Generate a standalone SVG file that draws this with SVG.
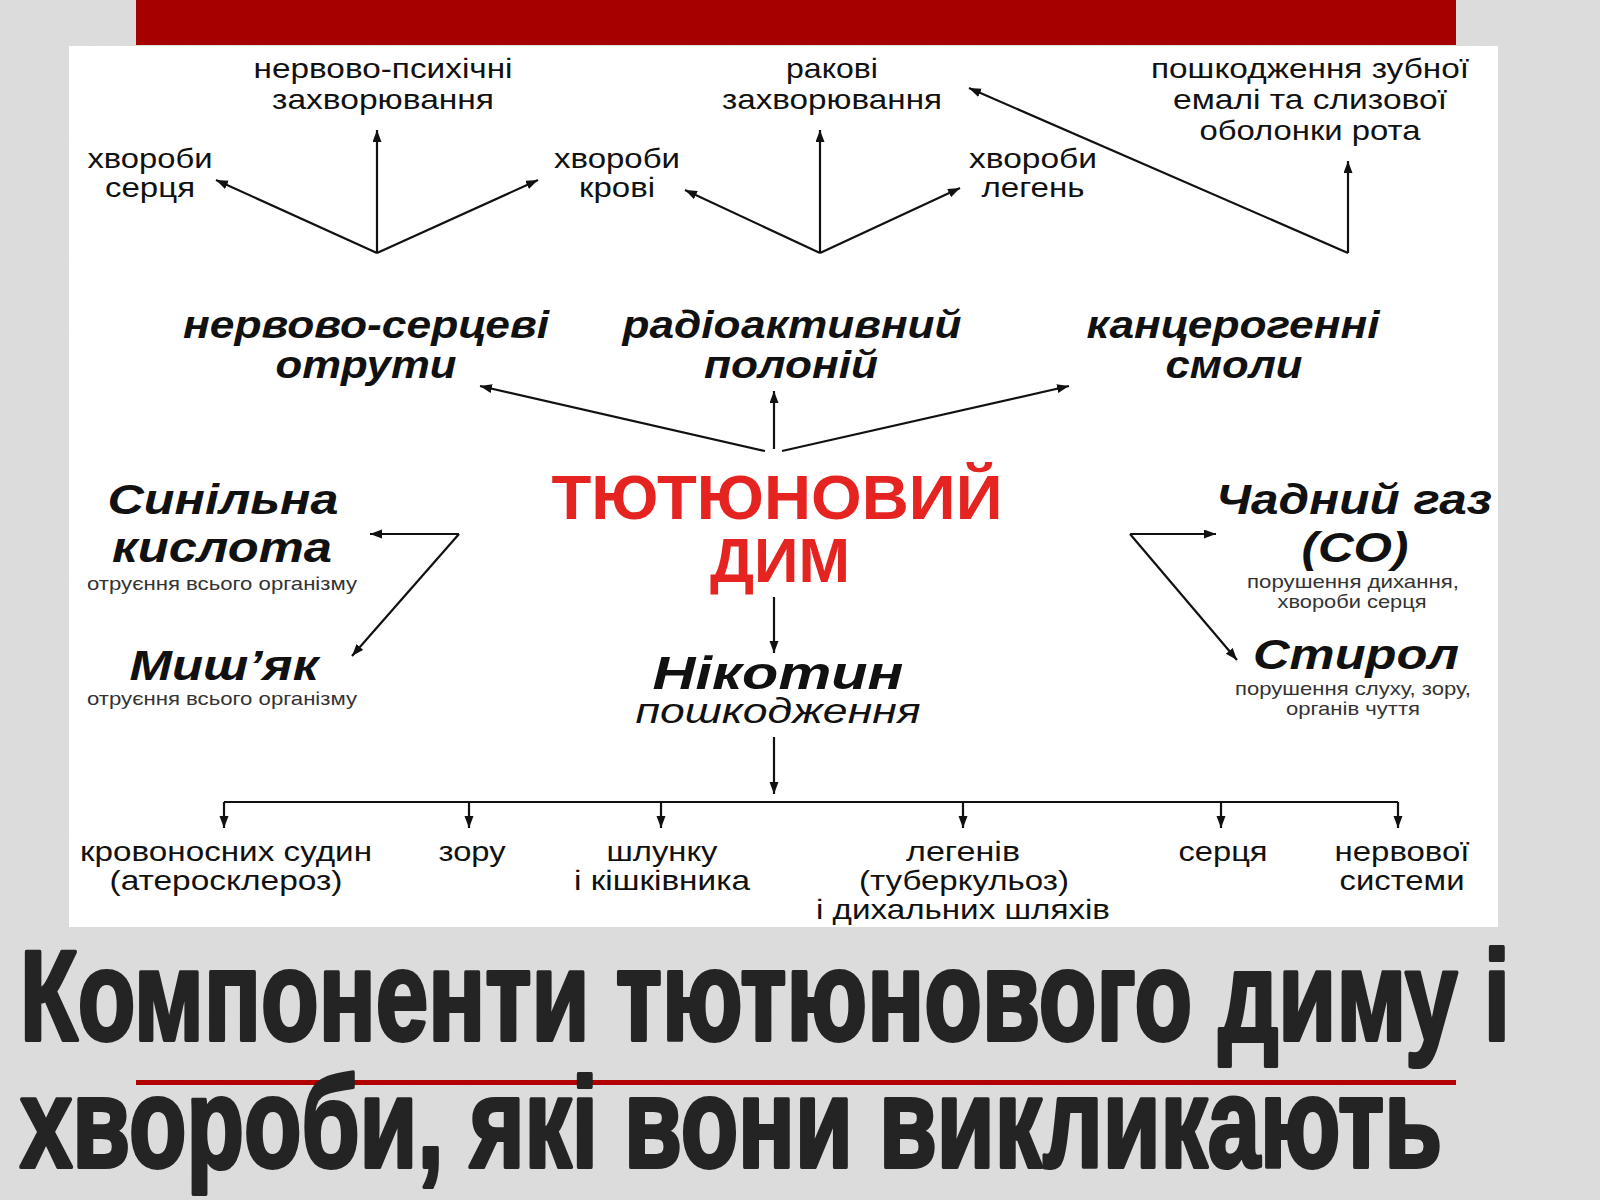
<svg xmlns="http://www.w3.org/2000/svg" width="1600" height="1200" viewBox="0 0 1600 1200">
<defs>
<marker id="ah" markerUnits="userSpaceOnUse" markerWidth="13" markerHeight="10" refX="12" refY="4.5" orient="auto">
<path d="M0,0 L12,4.5 L0,9 z" fill="#111"/>
</marker>
<filter id="noise" x="0" y="0" width="100%" height="100%">
<feTurbulence type="fractalNoise" baseFrequency="0.9" numOctaves="2" seed="3" result="n"/>
<feColorMatrix type="matrix" values="0 0 0 0 0.55  0 0 0 0 0.55  0 0 0 0 0.55  0 0 0 0.16 0"/>
</filter>
<style>
.t{font-family:'Liberation Sans',Arial,sans-serif;font-size:28px;fill:#111;text-anchor:middle}
.bi{font-family:'Liberation Sans',Arial,sans-serif;font-weight:bold;font-style:italic;font-size:39px;fill:#111;text-anchor:middle}
.big{font-size:42px}
.s{font-family:'Liberation Sans',Arial,sans-serif;font-size:19px;fill:#333;text-anchor:middle}
.red{font-family:'Liberation Sans',Arial,sans-serif;font-weight:bold;font-size:63px;fill:#e52421;text-anchor:middle}
.ttl{font-family:'Liberation Sans',Arial,sans-serif;font-weight:bold;font-size:128px;fill:#242424;stroke:#242424;stroke-width:4;stroke-linejoin:round}
.c{stroke:#111;stroke-width:2.2;fill:none;marker-end:url(#ah)}
.p{stroke:#111;stroke-width:2.2;fill:none}
</style>
</defs>
<rect width="1600" height="1200" fill="#dedede"/>
<rect width="1600" height="1200" filter="url(#noise)"/>
<rect x="69" y="46" width="1429" height="881" fill="#ffffff"/>
<rect x="136" y="0" width="1320" height="45" fill="#a70000"/>
<rect x="136" y="1080" width="1320" height="5" fill="#b00000"/>

<g id="connectors">
<path class="c" d="M377,253 L216,180"/>
<path class="c" d="M377,253 L377,130"/>
<path class="c" d="M377,253 L538,180"/>
<path class="c" d="M820,253 L685,190"/>
<path class="c" d="M820,253 L820,130"/>
<path class="c" d="M820,253 L960,188"/>
<path class="c" d="M1348,253 L969,88"/>
<path class="c" d="M1348,253 L1348,161"/>
<path class="c" d="M765,451 L480,386"/>
<path class="c" d="M774,449 L774,391"/>
<path class="c" d="M782,451 L1069,386"/>
<path class="c" d="M459,534 L370,534"/>
<path class="c" d="M459,534 L352,656"/>
<path class="c" d="M1130,534 L1216,534"/>
<path class="c" d="M1130,534 L1237,660"/>
<path class="c" d="M774,597 L774,653"/>
<path class="c" d="M774,737 L774,794"/>
<path class="p" d="M224,802 L1398,802"/>
<path class="c" d="M224,802 L224,828"/>
<path class="c" d="M469,802 L469,828"/>
<path class="c" d="M661,802 L661,828"/>
<path class="c" d="M963,802 L963,828"/>
<path class="c" d="M1221,802 L1221,828"/>
<path class="c" d="M1398,802 L1398,828"/>
</g>

<g id="n-nervovo-psykhichni"><text class="t" x="383" y="78" textLength="259" lengthAdjust="spacingAndGlyphs">нервово-психічні</text><text class="t" x="383" y="109" textLength="222" lengthAdjust="spacingAndGlyphs">захворювання</text></g>
<g id="n-rakovi"><text class="t" x="832" y="78" textLength="92" lengthAdjust="spacingAndGlyphs">ракові</text><text class="t" x="832" y="109" textLength="220" lengthAdjust="spacingAndGlyphs">захворювання</text></g>
<g id="n-zubna"><text class="t" x="1310" y="78" textLength="318" lengthAdjust="spacingAndGlyphs">пошкодження зубної</text><text class="t" x="1310" y="109" textLength="274" lengthAdjust="spacingAndGlyphs">емалі та слизової</text><text class="t" x="1310" y="140" textLength="221" lengthAdjust="spacingAndGlyphs">оболонки рота</text></g>
<g id="n-sertsia"><text class="t" x="150" y="168" textLength="125" lengthAdjust="spacingAndGlyphs">хвороби</text><text class="t" x="150" y="197" textLength="90" lengthAdjust="spacingAndGlyphs">серця</text></g>
<g id="n-krovi"><text class="t" x="617" y="168" textLength="126" lengthAdjust="spacingAndGlyphs">хвороби</text><text class="t" x="617" y="197" textLength="76" lengthAdjust="spacingAndGlyphs">крові</text></g>
<g id="n-legen"><text class="t" x="1033" y="168" textLength="128" lengthAdjust="spacingAndGlyphs">хвороби</text><text class="t" x="1033" y="197" textLength="103" lengthAdjust="spacingAndGlyphs">легень</text></g>

<g id="n-otruty"><text class="bi" x="366" y="338" textLength="366" lengthAdjust="spacingAndGlyphs">нервово-серцеві</text><text class="bi" x="366" y="378" textLength="181" lengthAdjust="spacingAndGlyphs">отрути</text></g>
<g id="n-polonii"><text class="bi" x="792" y="338" textLength="339" lengthAdjust="spacingAndGlyphs">радіоактивний</text><text class="bi" x="791" y="378" textLength="174" lengthAdjust="spacingAndGlyphs">полоній</text></g>
<g id="n-smoly"><text class="bi" x="1233" y="338" textLength="293" lengthAdjust="spacingAndGlyphs">канцерогенні</text><text class="bi" x="1234" y="378" textLength="137" lengthAdjust="spacingAndGlyphs">смоли</text></g>

<g id="n-dym"><text class="red" x="777" y="519" textLength="451" lengthAdjust="spacingAndGlyphs">ТЮТЮНОВИЙ</text><text class="red" x="780" y="582" textLength="140" lengthAdjust="spacingAndGlyphs">ДИМ</text></g>

<g id="n-synilna"><text class="bi big" x="223" y="514" textLength="231" lengthAdjust="spacingAndGlyphs">Синільна</text><text class="bi big" x="222" y="562" textLength="220" lengthAdjust="spacingAndGlyphs">кислота</text><text class="s" x="222" y="590" textLength="270" lengthAdjust="spacingAndGlyphs">отруєння всього організму</text></g>
<g id="n-mysh"><text class="bi big" x="224" y="680" textLength="189" lengthAdjust="spacingAndGlyphs">Миш’як</text><text class="s" x="222" y="705" textLength="270" lengthAdjust="spacingAndGlyphs">отруєння всього організму</text></g>
<g id="n-chadnyi"><text class="bi big" x="1354" y="514" textLength="276" lengthAdjust="spacingAndGlyphs">Чадний газ</text><text class="bi big" x="1355" y="562" textLength="107" lengthAdjust="spacingAndGlyphs">(СО)</text><text class="s" x="1353" y="588" textLength="212" lengthAdjust="spacingAndGlyphs">порушення дихання,</text><text class="s" x="1352" y="608" textLength="149" lengthAdjust="spacingAndGlyphs">хвороби серця</text></g>
<g id="n-styrol"><text class="bi big" x="1356" y="669" textLength="206" lengthAdjust="spacingAndGlyphs">Стирол</text><text class="s" x="1353" y="695" textLength="236" lengthAdjust="spacingAndGlyphs">порушення слуху, зору,</text><text class="s" x="1353" y="715" textLength="134" lengthAdjust="spacingAndGlyphs">органів чуття</text></g>
<g id="n-nikotyn"><text class="bi" x="778" y="689" style="font-size:47px" textLength="251" lengthAdjust="spacingAndGlyphs">Нікотин</text><text class="t" x="778" y="723" style="font-style:italic;font-size:35px" textLength="285" lengthAdjust="spacingAndGlyphs">пошкодження</text></g>

<g id="n-sudyn"><text class="t" x="226" y="861" textLength="292" lengthAdjust="spacingAndGlyphs">кровоносних судин</text><text class="t" x="226" y="890" textLength="233" lengthAdjust="spacingAndGlyphs">(атеросклероз)</text></g>
<g id="n-zoru"><text class="t" x="472" y="861" textLength="67" lengthAdjust="spacingAndGlyphs">зору</text></g>
<g id="n-shlunku"><text class="t" x="662" y="861" textLength="111" lengthAdjust="spacingAndGlyphs">шлунку</text><text class="t" x="662" y="890" textLength="176" lengthAdjust="spacingAndGlyphs">і кішківника</text></g>
<g id="n-legeniv"><text class="t" x="963" y="861" textLength="114" lengthAdjust="spacingAndGlyphs">легенів</text><text class="t" x="964" y="890" textLength="210" lengthAdjust="spacingAndGlyphs">(туберкульоз)</text><text class="t" x="963" y="919" textLength="294" lengthAdjust="spacingAndGlyphs">і дихальних шляхів</text></g>
<g id="n-sertsia2"><text class="t" x="1223" y="861" textLength="89" lengthAdjust="spacingAndGlyphs">серця</text></g>
<g id="n-nervovoi"><text class="t" x="1402" y="861" textLength="135" lengthAdjust="spacingAndGlyphs">нервової</text><text class="t" x="1402" y="890" textLength="125" lengthAdjust="spacingAndGlyphs">системи</text></g>

<g id="title">
<text class="ttl" x="20" y="1040" textLength="1490" lengthAdjust="spacingAndGlyphs">Компоненти тютюнового диму і</text>
<text class="ttl" x="20" y="1167" textLength="1422" lengthAdjust="spacingAndGlyphs">хвороби, які вони викликають</text>
</g>
</svg>
